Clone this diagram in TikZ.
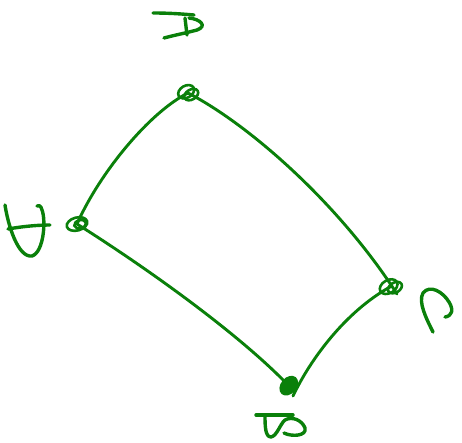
\documentclass[tikz,border=0pt]{standalone}
\usetikzlibrary{calc}
\definecolor{ink}{RGB}{10,128,10}
\begin{document}
\begin{tikzpicture}[x=1pt,y=-1pt,
  edge/.style={ink,line width=2.9pt,line cap=round},
  glyph/.style={ink,line width=3.4pt,line cap=round,line join=round},
  loopa/.style={ink,line width=2.6pt}]
\useasboundingbox (0,0) rectangle (462,442);
% vertices
\coordinate (A) at (188,93);
\coordinate (D) at (77,224);
\coordinate (C) at (390,287);
\coordinate (B) at (288,385);
\coordinate (Ce) at (397,294);
\coordinate (Be) at (293,396);
% edges
\draw[edge] (A) .. controls (150,112) and (100,172) .. (D);
\draw[edge] (A) .. controls (250,125) and (340,205) .. (Ce);
\draw[edge] (D) .. controls (150,270) and (240,335) .. (B);
\draw[edge] (Be) .. controls (310,360) and (345,312) .. (C);
% vertex scribbles
\draw[loopa,rotate around={30:(A)}] ($(A)+(-1,-2)$) ellipse [x radius=8.5, y radius=6];
\draw[loopa,rotate around={30:(A)}] ($(A)+(2,3)$) ellipse [x radius=7.5, y radius=5];
\draw[loopa,rotate around={15:(D)}] ($(D)+(0,0)$) ellipse [x radius=10.5, y radius=6.5];
\draw[loopa,rotate around={15:(D)}] ($(D)+(3,1)$) ellipse [x radius=6, y radius=4];
\draw[loopa,rotate around={30:(C)}] ($(C)+(-1,-1)$) ellipse [x radius=9.5, y radius=6.5];
\draw[loopa,rotate around={30:(C)}] ($(C)+(4,3)$) ellipse [x radius=7.5, y radius=5];
\fill[ink,rotate around={50:(B)}] ($(B)+(0,1)$) ellipse [x radius=11, y radius=8];
% label glyphs (hand drawn)
\draw[glyph] (153,13) .. controls (170,13) and (182,14) .. (194,15);
\draw[glyph] (189,18) .. controls (200,19) and (208,26) .. (197,30) .. controls (186,33) and (175,35) .. (164,38);
\draw[glyph] (185,18) -- (187,35);
\draw[glyph] (5,205) .. controls (8,225) and (18,258) .. (32,256) .. controls (44,252) and (46,220) .. (42,210) .. controls (41,205) and (38,205) .. (37,206);
\draw[glyph] (8,229) .. controls (25,226) and (40,225) .. (50,225);
\draw[glyph] (433,332) .. controls (426,318) and (418,302) .. (423,293) .. controls (430,284) and (443,292) .. (449,302) .. controls (454,310) and (452,316) .. (445,317);
\draw[glyph] (256,415) -- (293,415);
\draw[glyph] (265,415) .. controls (265,425) and (265,437) .. (271,437) .. controls (277,436) and (280,424) .. (285,420) .. controls (292,416) and (302,420) .. (305,428) .. controls (307,436) and (292,437) .. (284,433);
\end{tikzpicture}
\end{document}
